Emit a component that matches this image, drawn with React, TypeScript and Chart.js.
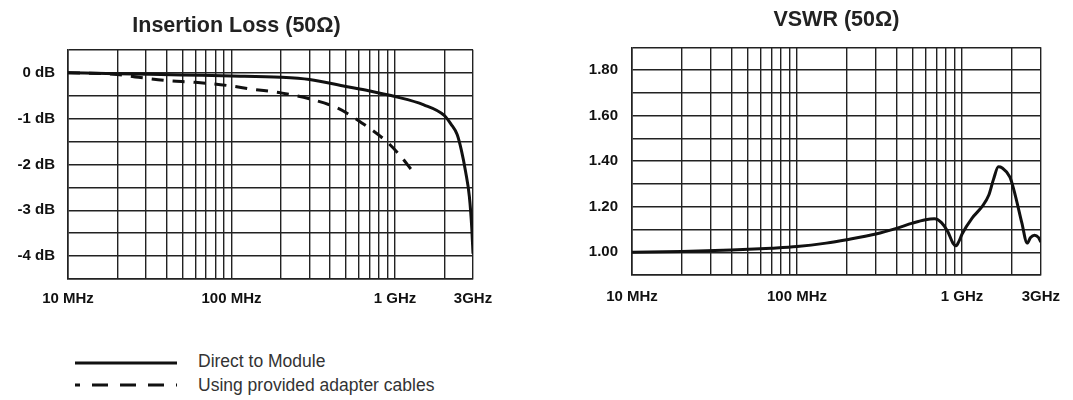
import React, { useEffect, useRef } from 'react';
import { Chart, registerables } from 'chart.js';

Chart.register(...registerables);

// ---------- data ----------
const ilDirectFreq = [10, 20, 50, 100, 200, 300, 500, 700, 1000, 1500, 2000, 2200, 2400, 2550, 2700, 2850, 2950, 3000];
const ilDirectDb = [0, -0.02, -0.05, -0.07, -0.1, -0.15, -0.3, -0.4, -0.52, -0.7, -0.93, -1.12, -1.35, -1.7, -2.15, -2.7, -3.4, -3.95];

const ilAdapterFreq = [10, 20, 27, 40, 60, 95, 135, 200, 300, 450, 630, 900, 1100, 1250];
const ilAdapterDb = [0, -0.04, -0.1, -0.17, -0.21, -0.28, -0.36, -0.44, -0.57, -0.78, -1.1, -1.52, -1.85, -2.1];

const vswrFreq = [10, 20, 40, 70, 100, 150, 200, 300, 400, 500, 600, 680, 750, 820, 880, 920, 960, 1000, 1150, 1320, 1450, 1550, 1660, 1750, 1950, 2100, 2300, 2480, 2600, 2750, 2900, 3000];
const vswrValues = [1.0, 1.003, 1.01, 1.018, 1.025, 1.04, 1.055, 1.08, 1.105, 1.128, 1.143, 1.147, 1.13, 1.09, 1.04, 1.028, 1.05, 1.08, 1.15, 1.2, 1.25, 1.32, 1.375, 1.37, 1.33, 1.25, 1.13, 1.04, 1.065, 1.075, 1.065, 1.045];

const gridFreqs = [10, 20, 30, 40, 50, 60, 70, 80, 90, 100, 200, 300, 400, 500, 600, 700, 800, 900, 1000, 2000, 3000];
const freqTickValues = [10, 100, 1000, 3000];
const freqTickLabels = ['10 MHz', '100 MHz', '1 GHz', '3GHz'];

const ilTickValues = [0, -1, -2, -3, -4];
const ilTickLabels = ['0 dB', '-1 dB', '-2 dB', '-3 dB', '-4 dB'];

const vswrTickValues = [1.0, 1.2, 1.4, 1.6, 1.8];
const vswrTickLabels = ['1.00', '1.20', '1.40', '1.60', '1.80'];

const legendLabels = ['Direct to Module', 'Using provided adapter cables'];

// ---------- helpers ----------
const FONT = "'Liberation Sans', Arial, Helvetica, sans-serif";
const GRID = '#222';

function lookup(values: number[], labels: string[], v: number): string {
  for (let i = 0; i < values.length; i++) {
    if (Math.abs(values[i] - v) < 1e-6) return labels[i];
  }
  return '';
}

function zip(xs: number[], ys: number[]) {
  return xs.map((x, i) => ({ x, y: ys[i] }));
}

function xScale(height: number, pad: number) {
  return {
    type: 'logarithmic' as const,
    min: 10,
    max: 3000,
    afterBuildTicks: (s: any) => {
      s.ticks = gridFreqs.map((v) => ({ value: v }));
    },
    afterFit: (s: any) => {
      s.height = height;
    },
    ticks: {
      autoSkip: false,
      maxRotation: 0,
      minRotation: 0,
      padding: pad,
      color: '#111',
      font: { family: FONT, size: 15, weight: 'bold' as const },
      callback: (v: any) => lookup(freqTickValues, freqTickLabels, Number(v)),
    },
    grid: { color: GRID, lineWidth: 1.4, drawTicks: false },
    border: { color: GRID, width: 1.6 },
  };
}

const App: React.FC = () => {
  const leftRef = useRef<HTMLCanvasElement | null>(null);
  const rightRef = useRef<HTMLCanvasElement | null>(null);

  useEffect(() => {
    const left = new Chart(leftRef.current as HTMLCanvasElement, {
      type: 'line',
      data: {
        datasets: [
          {
            label: legendLabels[0],
            data: zip(ilDirectFreq, ilDirectDb),
            borderColor: '#111',
            borderWidth: 3,
            pointRadius: 0,
            cubicInterpolationMode: 'monotone',
            fill: false,
          },
          {
            label: legendLabels[1],
            data: zip(ilAdapterFreq, ilAdapterDb),
            borderColor: '#111',
            borderWidth: 3,
            borderDash: [12, 9],
            pointRadius: 0,
            cubicInterpolationMode: 'monotone',
            fill: false,
          },
        ],
      },
      options: {
        animation: false,
        responsive: false,
        maintainAspectRatio: false,
        devicePixelRatio: 1,
        layout: { padding: { left: 0, right: 53, top: 0, bottom: 0 } },
        plugins: {
          legend: { display: false },
          tooltip: { enabled: false },
          title: {
            display: true,
            text: 'Insertion Loss (50Ω)',
            color: '#222',
            font: { family: FONT, size: 21.5, weight: 'bold' },
            padding: { top: 13, bottom: 11 },
          },
        },
        scales: {
          x: xScale(41, 11) as any,
          y: {
            min: -4.5,
            max: 0.5,
            afterFit: (s: any) => {
              s.width = 68;
            },
            ticks: {
              stepSize: 0.5,
              padding: 13,
              color: '#111',
              font: { family: FONT, size: 15, weight: 'bold' },
              callback: (v: any) => lookup(ilTickValues, ilTickLabels, Number(v)),
            },
            grid: { color: GRID, lineWidth: 1.4, drawTicks: false },
            border: { color: GRID, width: 1.6 },
          },
        },
      },
    });

    const right = new Chart(rightRef.current as HTMLCanvasElement, {
      type: 'line',
      data: {
        datasets: [
          {
            label: 'VSWR',
            data: zip(vswrFreq, vswrValues),
            borderColor: '#111',
            borderWidth: 3,
            pointRadius: 0,
            cubicInterpolationMode: 'monotone',
            fill: false,
          },
        ],
      },
      options: {
        animation: false,
        responsive: false,
        maintainAspectRatio: false,
        devicePixelRatio: 1,
        layout: { padding: { left: 0, right: 26, top: 0, bottom: 0 } },
        plugins: {
          legend: { display: false },
          tooltip: { enabled: false },
          title: {
            display: true,
            fullSize: false,
            text: 'VSWR (50Ω)',
            color: '#222',
            font: { family: FONT, size: 21.5, weight: 'bold' },
            padding: { top: 7, bottom: 14.5 },
          },
        },
        scales: {
          x: xScale(45, 13) as any,
          y: {
            min: 0.9,
            max: 1.9,
            afterFit: (s: any) => {
              s.width = 92;
            },
            ticks: {
              stepSize: 0.1,
              padding: 14,
              color: '#111',
              font: { family: FONT, size: 15, weight: 'bold' },
              callback: (v: any) => lookup(vswrTickValues, vswrTickLabels, Number(v)),
            },
            grid: { color: GRID, lineWidth: 1.4, drawTicks: false },
            border: { color: GRID, width: 1.6 },
          },
        },
      },
    });

    return () => {
      left.destroy();
      right.destroy();
    };
  }, []);

  const textStyle: React.CSSProperties = {
    position: 'absolute',
    left: 198,
    fontFamily: FONT,
    fontSize: 17.5,
    lineHeight: '20px',
    color: '#333',
    whiteSpace: 'nowrap',
  };

  return (
    <div style={{ position: 'fixed', left: 0, top: 0, width: 1073, height: 400, background: '#fff', overflow: 'hidden' }}>
      <canvas ref={leftRef} width={526} height={320} style={{ position: 'absolute', left: 0, top: 0, width: 526, height: 320 }} />
      <canvas ref={rightRef} width={533} height={320} style={{ position: 'absolute', left: 540, top: 0, width: 533, height: 320 }} />
      <svg width={200} height={60} style={{ position: 'absolute', left: 0, top: 340 }}>
        <line x1={75} y1={23} x2={177} y2={23} stroke="#111" strokeWidth={3} />
        <line x1={75} y1={45} x2={177} y2={45} stroke="#111" strokeWidth={3} strokeDasharray="16 12" strokeDashoffset={11} />
      </svg>
      <div style={{ ...textStyle, top: 351 }}>{legendLabels[0]}</div>
      <div style={{ ...textStyle, top: 375 }}>{legendLabels[1]}</div>
    </div>
  );
};

export default App;
